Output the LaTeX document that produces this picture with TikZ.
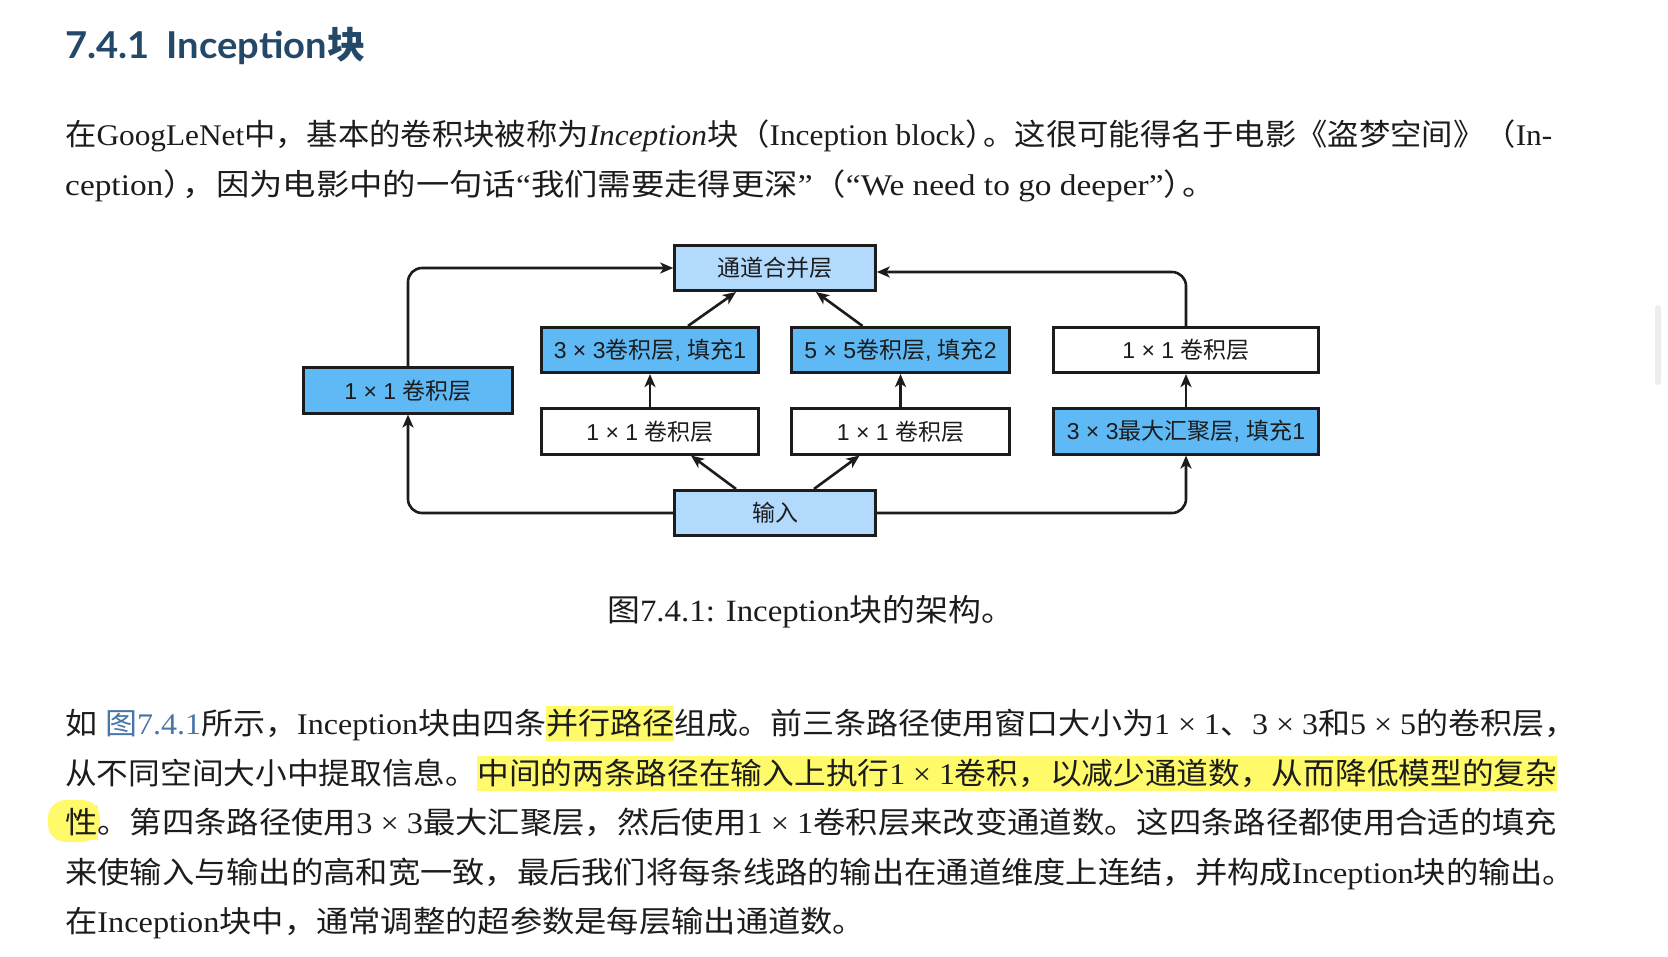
\documentclass[tikz,border=0pt]{standalone}
\usepackage{fontspec}
\usepackage{graphicx}
\usetikzlibrary{arrows.meta}
\setmainfont{Liberation Serif}
\setsansfont{Liberation Sans}
\newfontfamily\headfam{Lato}
\newfontfamily\cjksans{Noto Sans CJK SC}
\IfFontExistsTF{FandolSong-Regular.otf}{\newfontfamily\cjkserif{FandolSong-Regular.otf}}{\newfontfamily\cjkserif{Noto Sans CJK SC}}
\definecolor{textc}{RGB}{28,28,28}
\definecolor{headc}{RGB}{36,72,104}
\definecolor{linkc}{RGB}{72,118,168}
\definecolor{hlc}{RGB}{255,250,105}
\definecolor{lightb}{RGB}{178,218,252}
\definecolor{darkb}{RGB}{95,185,245}
\definecolor{linec}{RGB}{28,28,28}
% automatic switching between Latin and CJK fonts
\XeTeXinterchartokenstate=1
\newXeTeXintercharclass\CJKcls
\newcount\myclasscnt
\def\setclassrange#1#2#3{\myclasscnt=#1\relax\loop\XeTeXcharclass\myclasscnt=#3\relax\ifnum\myclasscnt<#2\advance\myclasscnt by 1\repeat}
\setclassrange{"0000}{"2FFF}{0}
\setclassrange{"3000}{"303F}{\CJKcls}
\setclassrange{"3400}{"9FFF}{\CJKcls}
\setclassrange{"FF00}{"FFEF}{\CJKcls}
\def\curcjk{\cjkserif}
\def\curlatin{\rmfamily}
\XeTeXinterchartoks 0 \CJKcls = {\curcjk}
\XeTeXinterchartoks 4095 \CJKcls = {\curcjk}
\XeTeXinterchartoks \CJKcls 0 = {\curlatin}
\XeTeXinterchartoks \CJKcls 4095 = {\curlatin}
\newcommand\bodyfont{\def\curlatin{\rmfamily}\def\curcjk{\cjkserif}\rmfamily\fontsize{30}{36}\selectfont\color{textc}}
\newcommand\capfont{\def\curlatin{\rmfamily}\def\curcjk{\cjkserif}\rmfamily\fontsize{31}{36}\selectfont\color{textc}}
\newcommand\headfont{\def\curlatin{\headfam}\def\curcjk{\cjksans}\headfam\bfseries\fontsize{37}{42}\selectfont\color{headc}}
\newcommand\diagfont{\def\curlatin{\sffamily}\def\curcjk{\cjksans}\sffamily\fontsize{23}{27}\selectfont\color{textc}}
\newcommand\hl[1]{\setbox0\hbox{#1}\makebox[0pt][l]{\color{hlc}\rule[-7pt]{\wd0}{35pt}}\box0}
\newcommand\fitw[2]{\resizebox{#1pt}{\height}{#2}}
\newcommand\pk{\kern-0.42em}
\begin{document}
\begin{tikzpicture}[x=1pt,y=-1pt,
  blk/.style={draw=linec, line width=2.6pt, inner sep=0pt, minimum height=45.5pt, font=\diagfont, text=textc},
  lightbox/.style={blk, fill=lightb},
  darkbox/.style={blk, fill=darkb},
  whitebox/.style={blk, fill=white},
  arr/.style={draw=linec, line width=2.6pt, rounded corners=14pt, -{Stealth[length=13pt,width=11pt,inset=3.5pt]}},
  bodyline/.style={anchor=base west, inner sep=0pt, font=\bodyfont},
]
\fill[white] (0,0) rectangle (1668,956);
\useasboundingbox (0,0) rectangle (1668,956);
% scrollbar
\fill[black!7, rounded corners=3pt] (1655,305) rectangle (1661,385);
% heading
\node[anchor=base west, inner sep=0pt, font=\headfont] (head) at (65,58) {\fitw{300}{7.4.1\hspace{0.45em}Inception块}};
% paragraph 1
\node[bodyline] (p1a) at (65,145) {\fitw{1487}{在GoogLeNet中，基本的卷积块被称为\textit{Inception}块（Inception block）\pk。这很可能得名于电影《盗梦空间》（In-}};
\node[bodyline] (p1b) at (65,195) {\fitw{1151}{ception）\pk，因为电影中的一句话“我们需要走得更深”（“We need to go deeper”）\pk。}};
% diagram
\node[lightbox, minimum width=201pt] (merge) at (775,268) {通道合并层};
\node[darkbox, minimum width=217pt] (c3) at (650,350) {3 × 3卷积层, 填充1};
\node[darkbox, minimum width=218pt] (c5) at (900.5,350) {5 × 5卷积层, 填充2};
\node[whitebox, minimum width=265pt] (r1) at (1186,350) {1 × 1 卷积层};
\node[darkbox, minimum width=209pt] (l1) at (408,390.5) {1 × 1 卷积层};
\node[whitebox, minimum width=217pt] (m1) at (650,431.5) {1 × 1 卷积层};
\node[whitebox, minimum width=218pt] (m2) at (900.5,431.5) {1 × 1 卷积层};
\node[darkbox, minimum width=265pt] (pool) at (1186,431.5) {3 × 3最大汇聚层, 填充1};
\node[lightbox, minimum width=201pt] (inp) at (775,513) {输入};
\draw[arr] (inp.west) -| (l1.south);
\draw[arr] (l1.north) |- (merge.west);
\draw[arr] (inp.east) -| (pool.south);
\draw[arr] (r1.north) |- ([yshift=-4pt]merge.east);
\draw[arr] ([xshift=38pt]c3.north) -- ([xshift=-39pt]merge.south);
\draw[arr] ([xshift=-38pt]c5.north) -- ([xshift=41pt]merge.south);
\draw[arr] ([xshift=-39pt]inp.north) -- ([xshift=41pt]m1.south);
\draw[arr] ([xshift=39pt]inp.north) -- ([xshift=-41pt]m2.south);
\draw[arr] (m1.north) -- (c3.south);
\draw[arr] (m2.north) -- (c5.south);
\draw[arr] (pool.north) -- (r1.south);
% caption
\node[anchor=base west, inner sep=0pt, font=\capfont] (cap) at (607,621) {\fitw{407}{图7.4.1: Inception块的架构。}};
% paragraph 2
\fill[hlc, rounded corners=18pt] (48,800) rectangle (100,842);
\node[bodyline] (p2a) at (65,734) {\fitw{1511}{如 \textcolor{linkc}{图7.4.1}所示，Inception块由四条\hl{并行路径}组成。前三条路径使用窗口大小为1 × 1、3 × 3和5 × 5的卷积层，}};
\node[bodyline] (p2b) at (65,784) {\fitw{1492}{从不同空间大小中提取信息。\hl{中间的两条路径在输入上执行1 × 1卷积，以减少通道数，从而降低模型的复杂}}};
\node[bodyline] (p2c) at (65,833) {\fitw{1492}{\hl{性}。第四条路径使用3 × 3最大汇聚层，然后使用1 × 1卷积层来改变通道数。这四条路径都使用合适的填充}};
\node[bodyline] (p2d) at (65,883) {\fitw{1510}{来使输入与输出的高和宽一致，最后我们将每条线路的输出在通道维度上连结，并构成Inception块的输出。}};
\node[bodyline] (p2e) at (65,932) {\fitw{800}{在Inception块中，通常调整的超参数是每层输出通道数。}};
\end{tikzpicture}
\end{document}
